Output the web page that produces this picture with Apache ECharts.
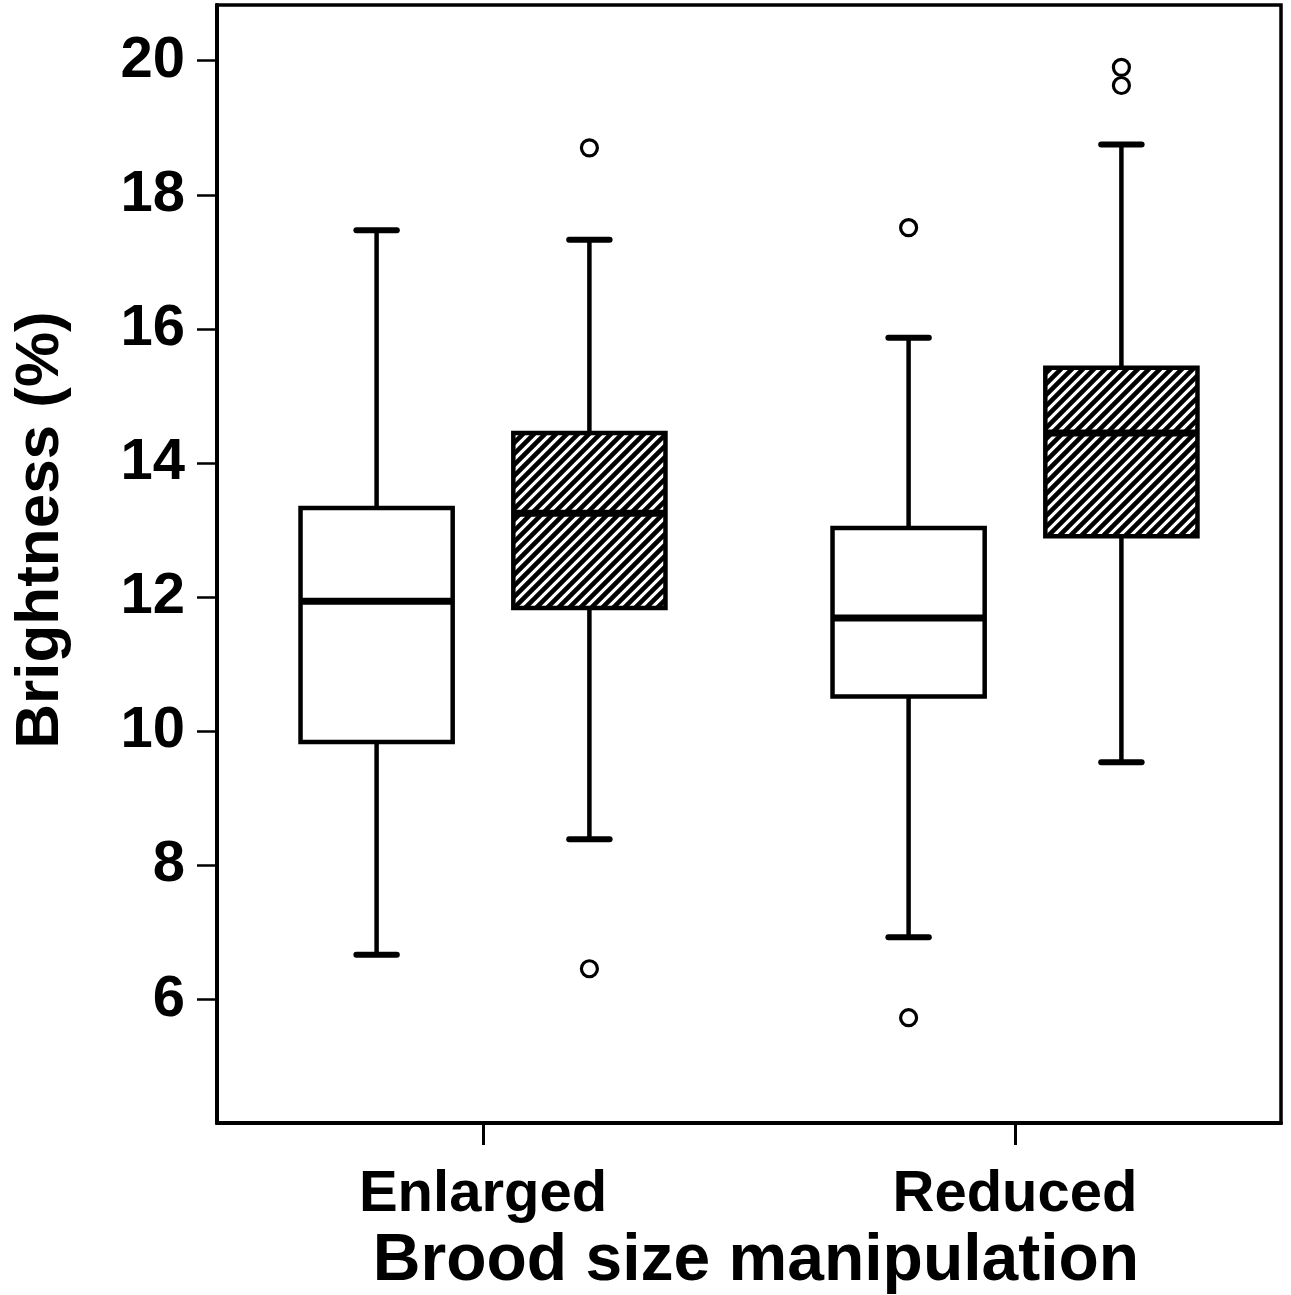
<!DOCTYPE html>
<html>
<head>
<meta charset="utf-8">
<script src="https://cdn.jsdelivr.net/npm/echarts@6/dist/echarts.min.js"></script>
<style>
html,body{margin:0;padding:0;background:#fff;}
#chart{width:1291px;height:1295px;}
</style>
</head>
<body>
<div id="chart"></div>
<script>
// ---- data ----
const categories = ['Enlarged', 'Reduced'];
const yTickValues = [6, 8, 10, 12, 14, 16, 18, 20];
// [low whisker, Q1, median, Q3, high whisker]
const whiteBoxes = [
  [6.67, 9.84, 11.94, 13.33, 17.47],
  [6.93, 10.52, 11.69, 13.03, 15.87]
];
const hatchedBoxes = [
  [8.39, 11.84, 13.25, 14.45, 17.33],
  [9.54, 12.91, 14.45, 15.42, 18.75]
];
// [category index, value]
const whiteOutliers = [[1, 17.51], [1, 5.73]];
const hatchedOutliers = [[0, 18.70], [0, 6.46], [1, 19.90], [1, 19.63]];

// ---- hatch pattern ----
function makeHatch() {
  const s = 11, w = 4.6;
  const c = document.createElement('canvas');
  c.width = s; c.height = s;
  const g = c.getContext('2d');
  g.fillStyle = '#fff'; g.fillRect(0, 0, s, s);
  g.strokeStyle = '#000'; g.lineWidth = w; g.lineCap = 'square';
  g.beginPath();
  g.moveTo(-1, s + 1); g.lineTo(s + 1, -1);
  g.moveTo(-w, w); g.lineTo(w, -w);
  g.moveTo(s - w, s + w); g.lineTo(s + w, s - w);
  g.stroke();
  return c;
}
const hatchFill = { image: makeHatch(), repeat: 'repeat' };

const OFFSET = 0.2, HALF_W = 0.143, CAP_HALF = 0.038;

function boxRenderer(offsetFrac, fill) {
  return function (params, api) {
    const cat = api.value(0);
    const band = api.size([1, 0])[0];
    const cx = api.coord([cat, api.value(3)])[0] + offsetFrac * band;
    const y = v => api.coord([cat, v])[1];
    const hw = HALF_W * band, ch = CAP_HALF * band;
    const low = y(api.value(1)), q1 = y(api.value(2)), med = y(api.value(3)),
          q3 = y(api.value(4)), high = y(api.value(5));
    const line = (x1, y1, x2, y2, lw) => ({
      type: 'line', shape: { x1, y1, x2, y2 },
      style: { stroke: '#000', lineWidth: lw, lineCap: 'round' }
    });
    return {
      type: 'group',
      children: [
        line(cx, low, cx, q1, 4.5),
        line(cx, q3, cx, high, 4.5),
        line(cx - ch, low, cx + ch, low, 6),
        line(cx - ch, high, cx + ch, high, 6),
        { type: 'rect', shape: { x: cx - hw, y: q3, width: 2 * hw, height: q1 - q3 },
          style: { fill: fill, stroke: '#000', lineWidth: 4.5 } },
        { type: 'line', shape: { x1: cx - hw, y1: med, x2: cx + hw, y2: med },
          style: { stroke: '#000', lineWidth: 7 } }
      ]
    };
  };
}
function outlierRenderer(offsetFrac) {
  return function (params, api) {
    const band = api.size([1, 0])[0];
    const p = api.coord([api.value(0), api.value(1)]);
    return { type: 'circle', shape: { cx: p[0] + offsetFrac * band, cy: p[1], r: 8 },
      style: { fill: '#fff', stroke: '#000', lineWidth: 3.2 } };
  };
}

const FONT = "'Liberation Sans', Arial, sans-serif";
const chart = echarts.init(document.getElementById('chart'));
chart.setOption({
  backgroundColor: '#fff',
  animation: false,
  grid: { left: 217, top: 5, right: 10, bottom: 172, containLabel: false, outerBoundsMode: 'none',
    show: true, borderColor: '#000', borderWidth: 3.5, backgroundColor: 'transparent' },
  xAxis: {
    type: 'category', data: categories,
    name: 'Brood size manipulation', nameLocation: 'middle', nameGap: 106,
    nameTextStyle: { fontFamily: FONT, fontWeight: 'bold', fontSize: 66, color: '#000', padding: [0, 0, 0, 14] },
    axisLine: { show: true, lineStyle: { color: '#000', width: 4 } },
    axisTick: { show: true, alignWithLabel: true, length: 22, lineStyle: { color: '#000', width: 3 } },
    axisLabel: { margin: 43, fontFamily: FONT, fontWeight: 'bold', fontSize: 58, color: '#000' },
    splitLine: { show: false }
  },
  yAxis: {
    type: 'value', min: 4.16, max: 20.83,
    name: 'Brightness (%)', nameLocation: 'middle', nameRotate: 90, nameGap: 145,
    nameTextStyle: { fontFamily: FONT, fontWeight: 'bold', fontSize: 62, color: '#000', padding: [0, 0, 0, 68] },
    axisLine: { show: true, lineStyle: { color: '#000', width: 4 } },
    axisTick: { show: true, length: 20, customValues: yTickValues, lineStyle: { color: '#000', width: 2.5 } },
    axisLabel: { margin: 32, customValues: yTickValues, fontFamily: FONT, fontWeight: 'bold', fontSize: 58, color: '#000' },
    splitLine: { show: false }
  },
  series: [
    { type: 'custom', renderItem: boxRenderer(-OFFSET, '#fff'),
      data: whiteBoxes.map((d, i) => [i].concat(d)), encode: { x: 0, y: [1, 2, 3, 4, 5] } },
    { type: 'custom', renderItem: boxRenderer(OFFSET, hatchFill),
      data: hatchedBoxes.map((d, i) => [i].concat(d)), encode: { x: 0, y: [1, 2, 3, 4, 5] } },
    { type: 'custom', renderItem: outlierRenderer(-OFFSET), data: whiteOutliers, encode: { x: 0, y: 1 } },
    { type: 'custom', renderItem: outlierRenderer(OFFSET), data: hatchedOutliers, encode: { x: 0, y: 1 } }
  ]
});
</script>
</body>
</html>
